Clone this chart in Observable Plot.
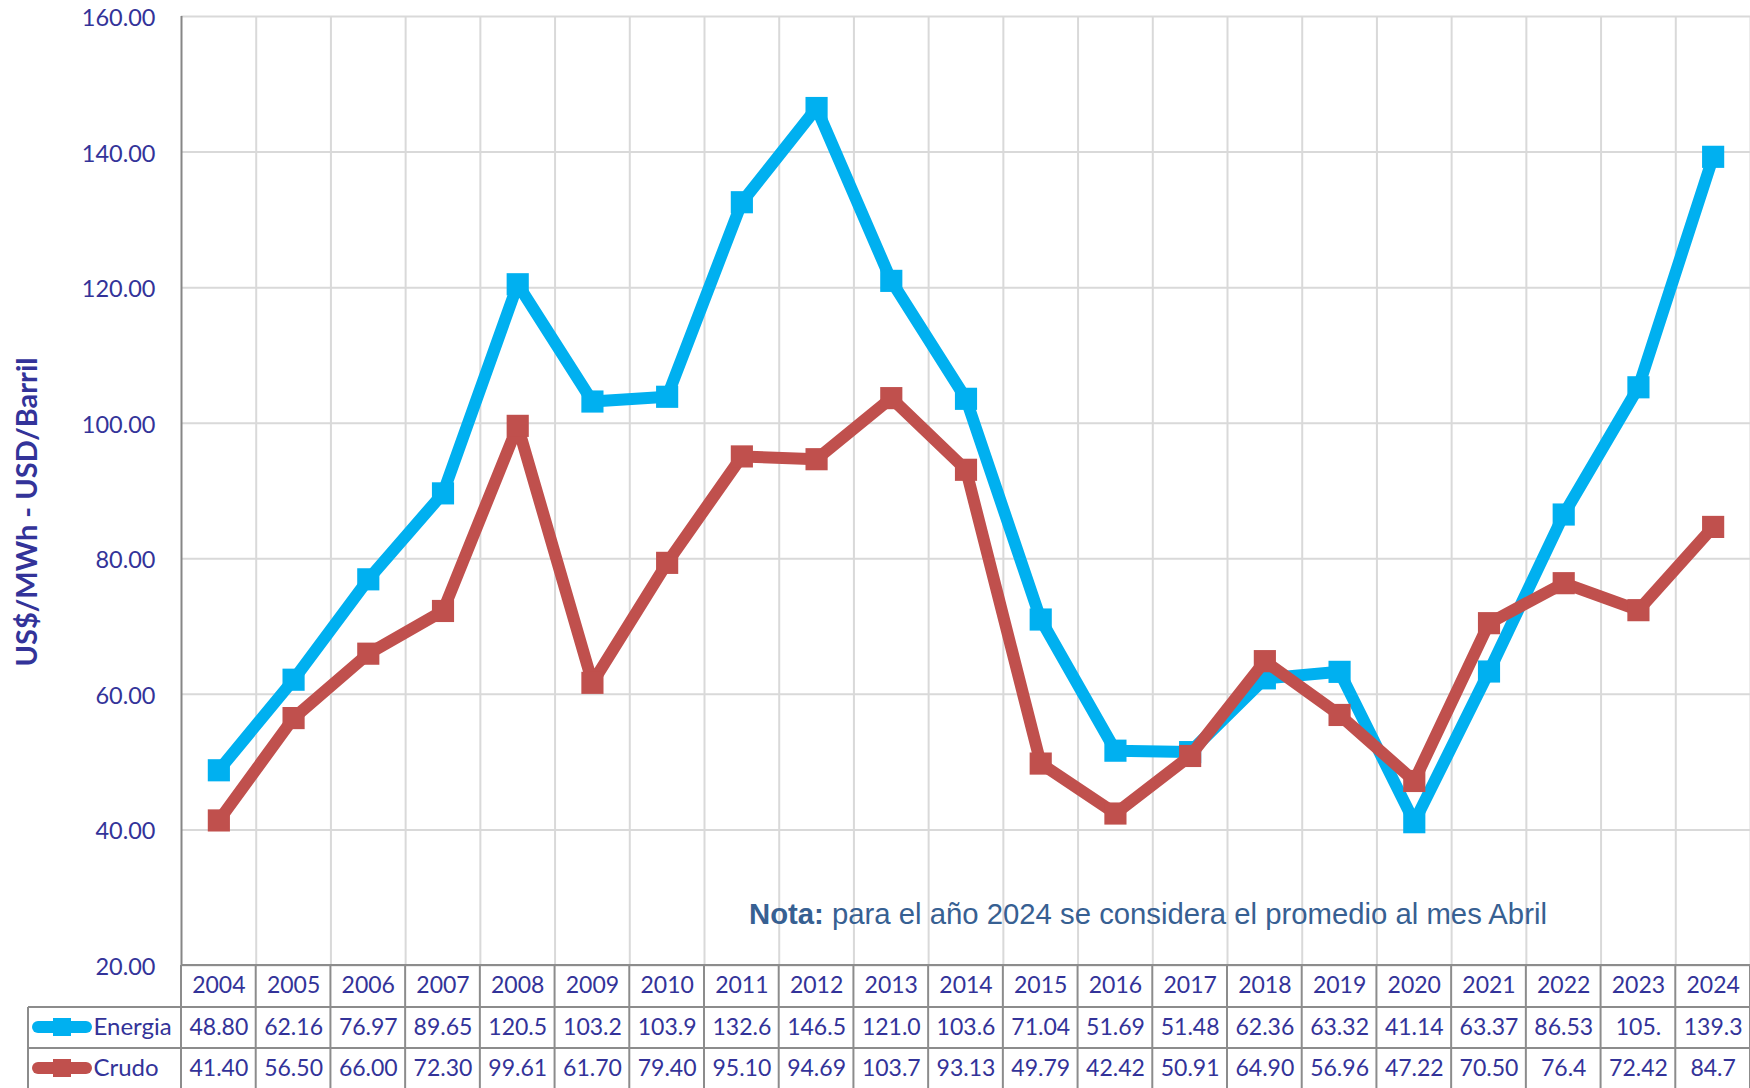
<!DOCTYPE html>
<html>
<head>
<meta charset="utf-8">
<script src="https://cdn.jsdelivr.net/npm/d3@7"></script>
<script src="https://cdn.jsdelivr.net/npm/@observablehq/plot@0.6"></script>
<style>
  html, body { margin: 0; padding: 0; background: #fff; }
  #chart svg { display: block; }
</style>
</head>
<body>
<div id="chart"></div>
<script>
// ---------- data ----------
const years = [2004, 2005, 2006, 2007, 2008, 2009, 2010, 2011, 2012, 2013, 2014,
               2015, 2016, 2017, 2018, 2019, 2020, 2021, 2022, 2023, 2024];
const energia = [48.80, 62.16, 76.97, 89.65, 120.5, 103.2, 103.9, 132.6, 146.5, 121.0, 103.6,
                 71.04, 51.69, 51.48, 62.36, 63.32, 41.14, 63.37, 86.53, 105.3, 139.3];
const crudo = [41.40, 56.50, 66.00, 72.30, 99.61, 61.70, 79.40, 95.10, 94.69, 103.7, 93.13,
               49.79, 42.42, 50.91, 64.90, 56.96, 47.22, 70.50, 76.4, 72.42, 84.7];
const energiaLabels = ["48.80", "62.16", "76.97", "89.65", "120.5", "103.2", "103.9", "132.6", "146.5", "121.0", "103.6",
                       "71.04", "51.69", "51.48", "62.36", "63.32", "41.14", "63.37", "86.53", "105.", "139.3"];
const crudoLabels = ["41.40", "56.50", "66.00", "72.30", "99.61", "61.70", "79.40", "95.10", "94.69", "103.7", "93.13",
                     "49.79", "42.42", "50.91", "64.90", "56.96", "47.22", "70.50", "76.4", "72.42", "84.7"];
const seriesNames = ["Energia", "Crudo"];
const seriesColors = ["#00B0F0", "#C0504D"];
const yTicks = [20, 40, 60, 80, 100, 120, 140, 160];
const yTitle = "US$/MWh - USD/Barril";
const noteBold = "Nota:";
const noteText = " para el año 2024 se considera el promedio al mes Abril";

// ---------- styles ----------
const TXT = "#333399";
const GRID = "#d9d9d9";
const TABLE = "#8c8c8c";

const energiaData = years.map((yr, i) => ({year: yr, value: energia[i], label: energiaLabels[i]}));
const crudoData = years.map((yr, i) => ({year: yr, value: crudo[i], label: crudoLabels[i]}));

// table grid + legend keys (layout only; positions come from the x scale)
function tableGrid(index, scales, values, dims) {
  const {width, height, marginLeft, marginBottom} = dims;
  const y0 = height - marginBottom;
  const legendLeft = 28;
  const g = d3.create("svg:g");
  const lines = g.append("g").attr("stroke", TABLE).attr("stroke-width", 2).attr("fill", "none");
  const xs = [years[0] - 0.5, ...years.map(y => y + 0.5)].map(scales.x);
  for (const x of xs) {
    lines.append("line").attr("x1", x).attr("x2", x).attr("y1", y0).attr("y2", height);
  }
  lines.append("line").attr("x1", legendLeft).attr("x2", legendLeft).attr("y1", y0 + 42).attr("y2", height);
  lines.append("line").attr("x1", marginLeft).attr("x2", width).attr("y1", y0).attr("y2", y0);
  lines.append("line").attr("x1", legendLeft).attr("x2", width).attr("y1", y0 + 42).attr("y2", y0 + 42);
  lines.append("line").attr("x1", legendLeft).attr("x2", width).attr("y1", y0 + 83).attr("y2", y0 + 83);
  // legend keys
  const keyY = [y0 + 62, y0 + 103];
  seriesColors.forEach((c, i) => {
    g.append("line").attr("x1", 38).attr("x2", 86).attr("y1", keyY[i]).attr("y2", keyY[i])
      .attr("stroke", c).attr("stroke-width", 12).attr("stroke-linecap", "round");
    g.append("rect").attr("x", 53).attr("y", keyY[i] - 9).attr("width", 18).attr("height", 18).attr("fill", c);
  });
  return g.node();
}

function noteMark(index, scales, values, dims) {
  const {height, marginLeft, marginBottom} = dims;
  const y0 = height - marginBottom;
  const t = d3.create("svg:text")
    .attr("x", marginLeft + 568)
    .attr("y", y0 - 41)
    .attr("text-anchor", "start")
    .attr("fill", "#376092")
    .attr("font-family", "'Liberation Sans', Arial, sans-serif")
    .attr("font-size", 29.3);
  t.append("tspan").attr("font-weight", "bold").text(noteBold);
  t.append("tspan").attr("xml:space", "preserve").text(noteText);
  return t.node();
}

const chart = Plot.plot({
  width: 1750,
  height: 1088,
  marginLeft: 181,
  marginRight: 0,
  marginTop: 16,
  marginBottom: 123,
  style: {fontFamily: "Lato, sans-serif", fontSize: "23px", color: TXT, background: "#fff"},
  x: {type: "linear", domain: [years[0] - 0.5, years[years.length - 1] + 0.5], axis: null},
  y: {type: "linear", domain: [20, 160], axis: null},
  marks: [
    Plot.ruleY(yTicks, {stroke: GRID, strokeWidth: 2}),
    Plot.ruleX(years.map(y => y + 0.5), {stroke: GRID, strokeWidth: 2}),
    Plot.ruleX([years[0] - 0.5], {stroke: "#868686", strokeWidth: 2}),
    Plot.axisY(yTicks, {tickSize: 0, tickPadding: 26, tickFormat: d => d.toFixed(2), fill: TXT, fontSize: 23.5, dy: 2, label: null}),
    Plot.text([yTitle], {text: d => d, frameAnchor: "left", textAnchor: "middle", rotate: -90, dx: -154, dy: 21,
      fontWeight: "bold", fontSize: 29, fill: TXT}),
    noteMark,
    Plot.line(energiaData, {x: "year", y: "value", stroke: seriesColors[0], strokeWidth: 12, strokeLinejoin: "round"}),
    Plot.dot(energiaData, {x: "year", y: "value", symbol: "square", r: 12.5, fill: seriesColors[0], stroke: null}),
    Plot.line(crudoData, {x: "year", y: "value", stroke: seriesColors[1], strokeWidth: 12, strokeLinejoin: "round"}),
    Plot.dot(crudoData, {x: "year", y: "value", symbol: "square", r: 12.5, fill: seriesColors[1], stroke: null}),
    tableGrid,
    Plot.text(years, {x: d => d, text: d => String(d), frameAnchor: "bottom", dy: 27, fill: TXT, fontSize: 23}),
    Plot.text(energiaData, {x: "year", text: "label", frameAnchor: "bottom", dy: 69, fill: TXT, fontSize: 23}),
    Plot.text(crudoData, {x: "year", text: "label", frameAnchor: "bottom", dy: 110, fill: TXT, fontSize: 23}),
    Plot.text([seriesNames[0]], {text: d => d, frameAnchor: "bottom-left", dx: -88, dy: 69, textAnchor: "start", fill: TXT, fontSize: 24}),
    Plot.text([seriesNames[1]], {text: d => d, frameAnchor: "bottom-left", dx: -88, dy: 110, textAnchor: "start", fill: TXT, fontSize: 24})
  ]
});
document.getElementById("chart").appendChild(chart);
</script>
</body>
</html>
